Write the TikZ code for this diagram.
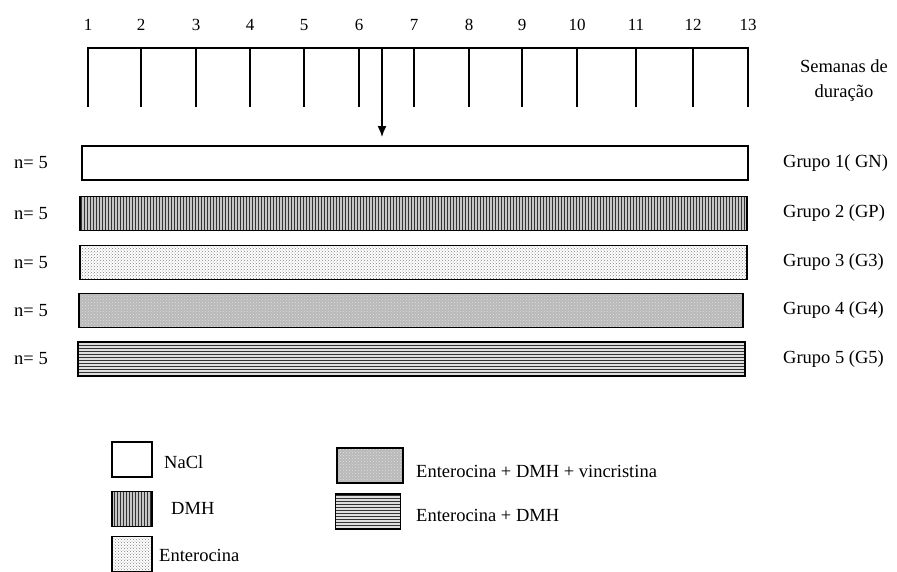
\documentclass[tikz,border=0pt]{standalone}
\usepackage{fontspec}
\setmainfont{Liberation Serif}
\usetikzlibrary{patterns,arrows.meta}

\begin{document}
\begin{tikzpicture}[
  x=1pt, y=-1pt,
  axis/.style={line width=1.8pt, line cap=rect},
  bar/.style={rectangle, draw=black, line width=1.8pt, inner sep=0pt, minimum height=34pt},
  key/.style={rectangle, draw=black, line width=1.8pt, inner sep=0pt, minimum width=40pt, minimum height=35pt},
  nacl/.style={fill=white},
  dmh/.style={preaction={fill=gray!45}, preaction={pattern=vertical lines, pattern color=black!80}},
  ent/.style={preaction={fill=white}, preaction={pattern=crosshatch dots, pattern color=gray}},
  entvin/.style={preaction={fill=gray!55}, preaction={pattern=crosshatch dots, pattern color=gray!25}},
  entdmh/.style={preaction={fill=gray!25}, preaction={pattern=horizontal lines, pattern color=black!80}},
  lbl/.style={font=\fontsize{18.5}{25}\selectfont, inner sep=1pt},
  num/.style={font=\fontsize{17}{20}\selectfont, inner sep=1pt},
  arrow/.style={-{Latex[length=11pt, width=9pt]}, line width=1.8pt, shorten >=8pt}
]
  \useasboundingbox (0,0) rectangle (897,571);

  % Weeks axis
  \draw[axis] (88,48) -- (748,48);
  \foreach \x/\n in {88/1, 141/2, 196/3, 250/4, 304/5, 359/6, 414/7, 469/8, 522/9, 577/10, 636/11, 693/12, 748/13} {
    \draw[axis] (\x,48) -- (\x,106);
    \node[num] (w\n) at (\x,25) {\n};
  }
  \node[lbl, align=center] (semanas) at (844,81) {Semanas de\\duração};

  % Groups
  \node[bar, nacl, minimum width=666pt] (g1) at (415,163) {};
  \node[bar, dmh, minimum width=667pt] (g2) at (413.5,213.5) {};
  \node[bar, ent, minimum width=667pt] (g3) at (413.5,262.5) {};
  \node[bar, entvin, minimum width=664pt] (g4) at (411,310.5) {};
  \node[bar, entdmh, minimum width=667pt] (g5) at (411.5,359) {};

  \foreach \i/\t in {1/Grupo 1( GN), 2/Grupo 2 (GP), 3/Grupo 3 (G3), 4/Grupo 4 (G4), 5/Grupo 5 (G5)} {
    \node[lbl, anchor=west] (t\i) at (782,0 |- g\i) {\t};
    \node[lbl] (n\i) at (31,0 |- g\i) {n= 5};
  }

  % Start of treatment
  \coordinate (start) at (382,48);
  \draw[arrow] (start) -- (start |- g1.north);

  % Legend
  \node[key, nacl] (k1) at (132,459.5) {};
  \node[key, dmh] (k2) at (132,509) {};
  \node[key, ent] (k3) at (132,554) {};
  \node[key, entvin, minimum width=66pt] (k4) at (370,465.5) {};
  \node[key, entdmh, minimum width=65pt] (k5) at (368,511.5) {};

  \node[lbl, anchor=west] (l1) at (163,462) {NaCl};
  \node[lbl, anchor=west] (l2) at (170,508) {DMH};
  \node[lbl, anchor=west] (l3) at (158,555) {Enterocina};
  \node[lbl, anchor=west] (l4) at (415,471) {Enterocina + DMH + vincristina};
  \node[lbl, anchor=west] (l5) at (415,515) {Enterocina + DMH};
\end{tikzpicture}
\end{document}
